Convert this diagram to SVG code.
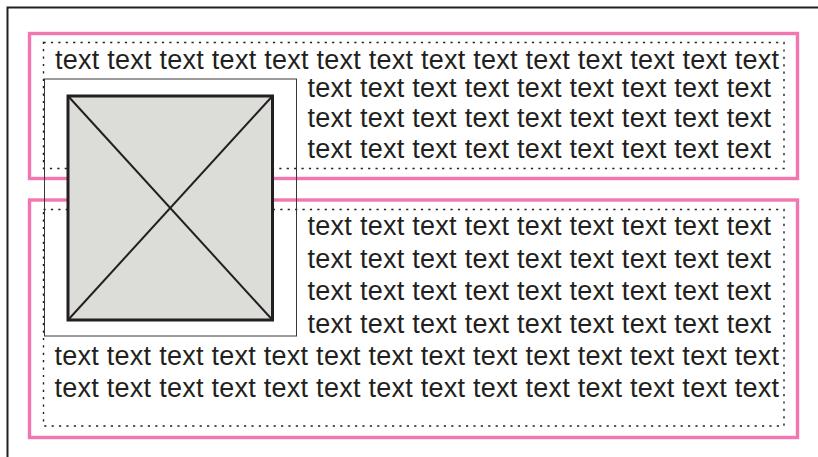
<svg xmlns="http://www.w3.org/2000/svg" width="818" height="457" viewBox="0 0 818 457">
<style>
.pink{fill:none;stroke:#f077b0;stroke-width:3.4}
.dot{fill:none;stroke:#231f20;stroke-width:1.4;stroke-dasharray:2.2 5.2}
.t{font-family:"Liberation Sans",Arial,sans-serif;font-size:27px;fill:#231f20}
</style>
<rect width="818" height="457" fill="#ffffff"/>
<rect x="7.5" y="7.5" width="830" height="470" fill="none" stroke="#231f20" stroke-width="2"/>
<g id="box1">
<rect class="pink" x="29.5" y="33.5" width="768" height="145"/>
<rect class="dot" x="43.5" y="42.5" width="740.5" height="126"/>
<text class="t" x="55" y="69" textLength="724" lengthAdjust="spacing">text text text text text text text text text text text text text text</text>
<text class="t" x="307.5" y="96.5" textLength="463.5" lengthAdjust="spacing">text text text text text text text text text</text>
<text class="t" x="307.5" y="127.2" textLength="463.5" lengthAdjust="spacing">text text text text text text text text text</text>
<text class="t" x="307.5" y="158" textLength="463.5" lengthAdjust="spacing">text text text text text text text text text</text>
</g>
<g id="box2">
<rect class="pink" x="29.5" y="200" width="768" height="237.5"/>
<rect class="dot" x="43.5" y="209.5" width="740.5" height="216.5"/>
<text class="t" x="307.5" y="235.3" textLength="463.5" lengthAdjust="spacing">text text text text text text text text text</text>
<text class="t" x="307.5" y="267.5" textLength="463.5" lengthAdjust="spacing">text text text text text text text text text</text>
<text class="t" x="307.5" y="300" textLength="463.5" lengthAdjust="spacing">text text text text text text text text text</text>
<text class="t" x="307.5" y="333" textLength="463.5" lengthAdjust="spacing">text text text text text text text text text</text>
<text class="t" x="54.5" y="365" textLength="724.5" lengthAdjust="spacing">text text text text text text text text text text text text text text</text>
<text class="t" x="54.5" y="396.7" textLength="724.5" lengthAdjust="spacing">text text text text text text text text text text text text text text</text>
</g>
<g id="image">
<rect x="44.5" y="79" width="252" height="257" fill="none" stroke="#3a3637" stroke-width="1"/>
<rect x="68" y="96" width="204.5" height="224" fill="#dcdcd8" stroke="#231f20" stroke-width="3"/>
<line x1="68" y1="96" x2="272.5" y2="320" stroke="#231f20" stroke-width="2"/>
<line x1="272.5" y1="96" x2="68" y2="320" stroke="#231f20" stroke-width="2"/>
</g>
</svg>
